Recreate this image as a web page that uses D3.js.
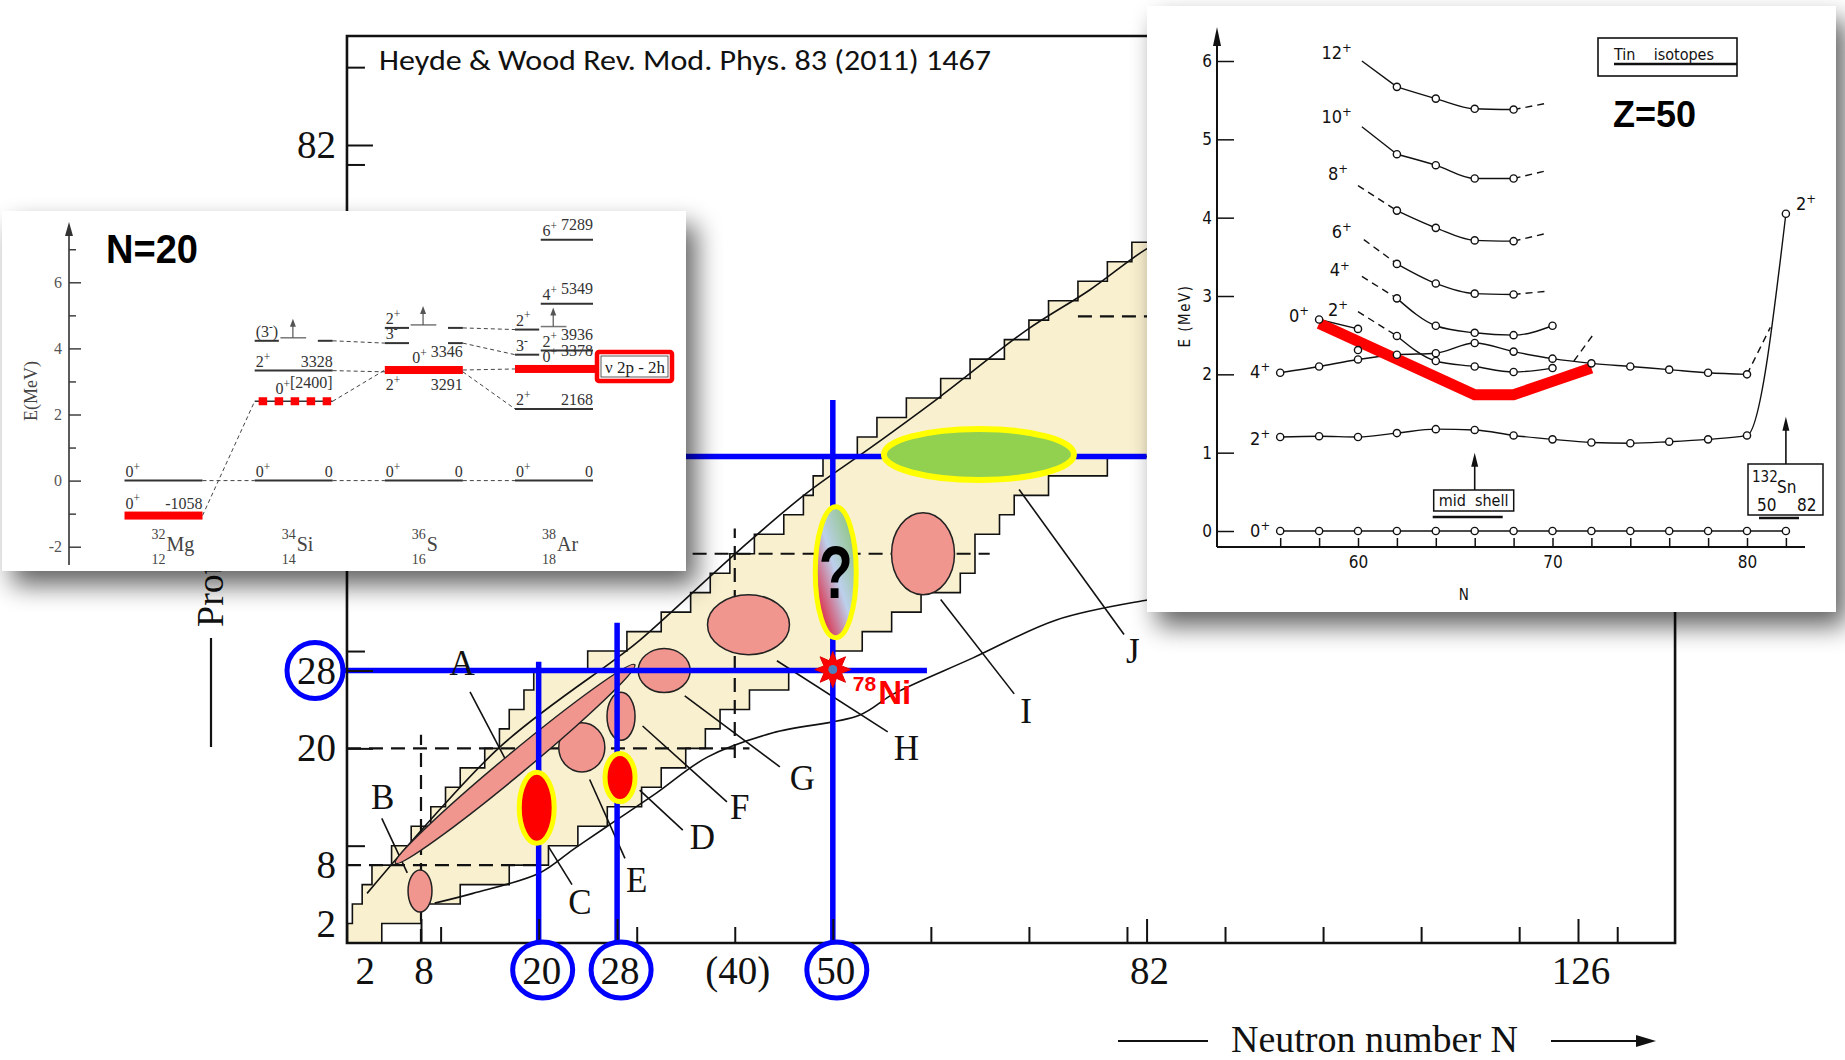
<!DOCTYPE html>
<html>
<head>
<meta charset="utf-8">
<title>Shape coexistence near magic numbers</title>
<script src="https://cdn.jsdelivr.net/npm/d3@7"></script>
<style>
  body { margin: 0; background: #fff; }
  svg { display: block; }
  .serif { font-family: "Liberation Serif", "DejaVu Serif", serif; }
  .cond { font-family: "Liberation Sans Narrow", "DejaVu Sans Condensed", "Liberation Sans", sans-serif; }
</style>
</head>
<body>
<svg id="chart" width="1845" height="1060"></svg>
<script>
// ---------- main chart: known nuclei band, rows of two protons ----------
var bandZ    = [0, 2, 4, 6, 8, 10, 12, 14, 16, 18, 20, 22, 24, 26, 28, 30, 32, 34, 36,
                38, 40, 42, 44, 46, 48, 50, 52, 54, 56, 58, 60, 62, 64, 66, 68, 70, 72, 74]
  , bandNmin = [0.5, 1, 2, 3, 5, 7, 9, 10.5, 12, 14.5, 16, 17, 18.5, 19.5, 25, 29, 32.5, 35.5, 37.5,
                39.5, 42, 45, 47, 48, 49, 52.5, 54.5, 57.5, 61, 64, 67.5, 70, 72, 75, 78, 80.5, 84, 87]
  , bandNmax = [4, 8, 12, 17, 21, 24, 27, 30.5, 32.5, 35, 37, 38.5, 41.5, 45.5, 50, 53, 56, 59, 63,
                64.5, 64.5, 67, 68.5, 72, 78, 86, 90, 94, 98, 102, 106, 110, 114, 118, 122, 126, 128, 130]
  ;

// smooth limit curves (N, Z)
var upperN = [2.5, 16, 28, 30.3, 40.5, 47.3, 54, 60.9, 69.8, 76.2, 81.8, 86]
  , upperZ = [5.1, 20.1, 29.3, 31.1, 40.4, 46.2, 51, 56.1, 63, 67.1, 71.2, 73.5]
  , lowerN = [9.4, 13.3, 20.1, 23.5, 27, 32, 37.2, 43.9, 52.7, 56.2, 64.3, 72.8, 81.8, 86]
  , lowerZ = [4.1, 5.1, 7.2, 9.6, 12, 15.4, 19.1, 21.6, 23.4, 25.6, 29.3, 33.2, 35.2, 35.8]
  ;

// dashed shell-closure guides
var guideN0 = [8, 0.45, 0.45, 40, 35.7, 75]
  , guideZ0 = [0, 8, 20, 19, 40, 64.4]
  , guideN1 = [8, 20, 41.5, 40, 66, 84]
  , guideZ1 = [21.4, 8, 20, 42.6, 40, 64.4]
  ;

// shape-coexistence regions (pink)
var blobN  = [7.9, 24.4, 28.4, 32.8, 41.4, 59.2]
  , blobZ  = [5.34, 20.1, 23.3, 28.0, 32.7, 40.0]
  , blobRN = [1.22, 2.35, 1.43, 2.65, 4.18, 3.21]
  , blobRZ = [2.16, 2.52, 2.47, 2.26, 3.08, 4.21]
  , stripN = [5.4, 29.8]
  , stripZ = [8.2, 28.6]
  , islandN  = [19.8, 28.3]
  , islandZ  = [13.9, 17.0]
  , islandRN = [1.78, 1.53]
  , islandRZ = [3.65, 2.47]
  , queryN = 50.3, queryZ = 38.1, queryRN = 2.09, queryRZ = 6.73
  , tinN = 64.9, tinZ = 50.2, tinRN = 9.69, tinRZ = 2.62
  , niN = 50, niZ = 28.1
  ;

// region letters and leader lines
var tagText = ["A", "B", "C", "D", "E", "F", "G", "H", "I", "J"]
  , tagN    = [12.2, 4.1, 24.2, 36.7, 30.0, 40.5, 46.9, 57.5, 69.7, 80.6]
  , tagZ    = [28.8, 15.0, 4.2, 10.9, 6.5, 14.0, 17.0, 20.0, 23.8, 30.0]
  , leadN0  = [13.0, 4.0, 21.0, 30.3, 25.2, 30.6, 34.9, 44.3, 61.0, 69.0]
  , leadZ0  = [25.8, 12.8, 9.9, 15.7, 16.8, 22.3, 25.4, 29.0, 35.3, 46.6]
  , leadN1  = [16.8, 6.6, 23.4, 34.7, 28.8, 39.2, 44.6, 55.6, 68.5, 79.7]
  , leadZ1  = [18.5, 7.2, 6.0, 11.6, 8.7, 14.5, 18.1, 21.7, 25.6, 31.7]
  ;

// highlighted magic numbers
var magicLinesN = [20, 28, 50]
  , magicTopZ   = [28.9, 32.9, 55.8]
  , magicLinesZ = [28, 50]
  , magicFromN  = [0, 30]
  , magicToN    = [59.6, 82]
  ;

// axes
var nTicksMinor = [10, 30, 40, 60, 70, 80, 90, 100, 110, 120, 130]
  , nTicksMajor = [8, 20, 28, 50, 82, 126]
  , nLabelVals  = [2, 8, 20, 28, 40, 50, 82, 126]
  , nLabels     = ["2", "8", "20", "28", "(40)", "50", "82", "126"]
  , zTicksMinor = [10, 30, 40, 60, 70, 80, 90]
  , zTicksMajor = [20, 28, 50, 82]
  , zLabelVals  = [2, 8, 20, 28, 82]
  , zLabels     = ["2", "8", "20", "28", "82"]
  , circledN    = [20, 28, 50]
  , circledZ    = [28]
  , nFrame = [0.45, 135.9]
  , zFrame = [0, 93.2]
  ;

// ---------- N=20 inset: level scheme (keV) ----------
var nucSymbol = ["Mg", "Si", "S", "Ar"]
  , nucMass   = [32, 34, 36, 38]
  , nucZ      = [12, 14, 16, 18]
  , levelNuc  = [0, 0, 1, 1, 1, 2, 2, 2, 3, 3, 3, 3, 3, 3]
  , levelKeV  = [0, -1058, 0, 2400, 3328, 0, 3291, 3346, 0, 2168, 3378, 3936, 5349, 7289]
  , levelSpin = ["0+", "0+", "0+", "0+", "2+", "0+", "2+", "0+", "0+", "2+", "0+", "2+", "4+", "6+"]
  , levelText = ["", "-1058", "0", "[2400]", "3328", "0", "3291", "3346", "0", "2168", "3378", "3936", "5349", "7289"]
  , levelKind = [0, 1, 0, 2, 0, 0, 0, 1, 0, 0, 1, 0, 0, 0]
  , levelMode = [0, 0, 0, 2, 0, 0, 1, 2, 0, 0, 2, 3, 3, 3]
  , highNuc   = [1, 2, 2, 3, 3]
  , highKeV   = [4230, 4160, 4620, 3810, 4570]
  , highSpin  = ["(3-)", "3-", "2+", "3-", "2+"]
  , highSplit = [1, 1, 1, 0, 0]
  , highArrow = [1, 0, 1, 0, 1]
  , linkNuc   = [0, 1, 2, 0, 1, 2, 1, 2, 1, 2, 2]
  , linkFrom  = [0, 0, 0, -1058, 2400, 3346, 3328, 3291, 4230, 4160, 4620]
  , linkTo    = [0, 0, 0, 2400, 3346, 3378, 3291, 2168, 4160, 3810, 4570]
  , eTicksMajor = [-2, 0, 2, 4, 6]
  , eTicksMinor = [-1, 1, 3, 5, 7]
  ;

// ---------- Z=50 inset: tin isotopes (MeV) ----------
var snN       = [56, 58, 60, 62, 64, 66, 68, 70, 72, 74, 76, 78, 80, 82]
  , snGround  = [0, 0, 0, 0, 0, 0, 0, 0, 0, 0, 0, 0, 0, 0]
  , snTwo     = [1.20, 1.21, 1.20, 1.25, 1.30, 1.29, 1.22, 1.17, 1.13, 1.12, 1.14, 1.17, 1.22, 4.05]
  , snFourN   = [56, 58, 60, 62, 64, 66, 68, 70, 72, 74, 76, 78, 80]
  , snFour    = [2.02, 2.10, 2.19, 2.25, 2.27, 2.40, 2.29, 2.20, 2.14, 2.10, 2.06, 2.02, 2.00]
  , snTwoBN   = [62, 64, 66, 68, 70]
  , snTwoB    = [2.49, 2.17, 2.10, 2.03, 2.08]
  , snZeroBN  = [58, 60]
  , snZeroB   = [2.70, 2.58]
  , snFourBN  = [62, 64, 66, 68, 70]
  , snFourB   = [2.97, 2.62, 2.53, 2.50, 2.62]
  , snBandN   = [62, 64, 66, 68]
  , snSix     = [3.41, 3.16, 3.03, 3.02]
  , snEight   = [4.09, 3.87, 3.71, 3.70]
  , snTen     = [4.81, 4.67, 4.50, 4.50]
  , snTwelve  = [5.67, 5.52, 5.39, 5.38]
  , snLoneN   = [60]
  , snLone    = [2.31]
  , snIntrN   = [58, 66, 68, 70, 72]
  , snIntr    = [2.65, 1.74, 1.74, 1.91, 2.08]
  , snTickN   = [56, 58, 60, 62, 64, 66, 68, 70, 72, 74, 76, 78, 80, 82]
  , snTickE   = [0, 1, 2, 3, 4, 5, 6]
  ;

var svg = d3.select("#chart")
  , defs = svg.append("defs")
  ;

var drop = defs.append("filter").attr("id", "drop")
  .attr("x", "-8%").attr("y", "-10%").attr("width", "125%").attr("height", "130%");
drop.append("feGaussianBlur").attr("in", "SourceAlpha").attr("stdDeviation", 13);
drop.append("feOffset").attr("dx", 10).attr("dy", 14).attr("result", "off");
drop.append("feComponentTransfer").append("feFuncA").attr("type", "linear").attr("slope", 0.62);
var dm = drop.append("feMerge");
dm.append("feMergeNode");
dm.append("feMergeNode").attr("in", "SourceGraphic");

var qg = defs.append("linearGradient").attr("id", "qgrad")
  .attr("x1", 0).attr("y1", 1).attr("x2", 1).attr("y2", 0);
qg.append("stop").attr("offset", "0.12").attr("stop-color", "#e0203c");
qg.append("stop").attr("offset", "0.5").attr("stop-color", "#bcd0ec");
qg.append("stop").attr("offset", "0.9").attr("stop-color", "#8cc47c");

// ================= main chart =================
var xN = d3.scaleLinear().domain([8, 126]).range([421, 1578])
  , yZ = d3.scaleLinear().domain([0, 82]).range([943, 145])
  , main = svg.append("g")
  ;

defs.append("clipPath").attr("id", "frameClip").append("rect")
  .attr("x", xN(nFrame[0])).attr("y", yZ(zFrame[1]))
  .attr("width", xN(nFrame[1]) - xN(nFrame[0]))
  .attr("height", yZ(zFrame[0]) - yZ(zFrame[1]));

var plot = main.append("g").attr("clip-path", "url(#frameClip)");

function bandPath() {
  var pts = [], i;
  for (i = 0; i < bandZ.length; i++) {
    pts.push([bandNmin[i], bandZ[i]], [bandNmin[i], bandZ[i] + 2]);
  }
  for (i = bandZ.length - 1; i >= 0; i--) {
    pts.push([bandNmax[i], bandZ[i] + 2], [bandNmax[i], bandZ[i]]);
  }
  return d3.line().x(function (d) { return xN(d[0]); }).y(function (d) { return yZ(d[1]); })(pts) + "Z";
}

plot.append("path").attr("d", bandPath())
  .attr("fill", "#f9f0cf").attr("stroke", "#111").attr("stroke-width", 1.6);

var smooth = d3.line()
  .x(function (d) { return xN(d[0]); })
  .y(function (d) { return yZ(d[1]); })
  .curve(d3.curveCatmullRom.alpha(0.5));

plot.append("path").attr("d", smooth(d3.zip(upperN, upperZ)))
  .attr("fill", "none").attr("stroke", "#111").attr("stroke-width", 1.6);
plot.append("path").attr("d", smooth(d3.zip(lowerN, lowerZ)))
  .attr("fill", "none").attr("stroke", "#111").attr("stroke-width", 1.6);

plot.selectAll("line.guide").data(guideN0).enter().append("line")
  .attr("class", "guide")
  .attr("x1", function (d, i) { return xN(guideN0[i]); })
  .attr("y1", function (d, i) { return yZ(guideZ0[i]); })
  .attr("x2", function (d, i) { return xN(guideN1[i]); })
  .attr("y2", function (d, i) { return yZ(guideZ1[i]); })
  .attr("stroke", "#111").attr("stroke-width", 2.2).attr("stroke-dasharray", "14,8");

// leader lines
plot.selectAll("line.lead").data(tagText).enter().append("line")
  .attr("class", "lead")
  .attr("x1", function (d, i) { return xN(leadN0[i]); })
  .attr("y1", function (d, i) { return yZ(leadZ0[i]); })
  .attr("x2", function (d, i) { return xN(leadN1[i]); })
  .attr("y2", function (d, i) { return yZ(leadZ1[i]); })
  .attr("stroke", "#111").attr("stroke-width", 1.6);

// pink regions
plot.selectAll("ellipse.blob").data(blobN).enter().append("ellipse")
  .attr("class", "blob")
  .attr("cx", function (d, i) { return xN(blobN[i]); })
  .attr("cy", function (d, i) { return yZ(blobZ[i]); })
  .attr("rx", function (d, i) { return xN(blobN[i] + blobRN[i]) - xN(blobN[i]); })
  .attr("ry", function (d, i) { return yZ(blobZ[i]) - yZ(blobZ[i] + blobRZ[i]); })
  .attr("fill", "#f0968f").attr("stroke", "#222").attr("stroke-width", 1.5);

(function () {
  var x0 = xN(stripN[0]), y0 = yZ(stripZ[0])
    , x1 = xN(stripN[1]), y1 = yZ(stripZ[1])
    , len = Math.hypot(x1 - x0, y1 - y0)
    , ang = Math.atan2(y1 - y0, x1 - x0) * 180 / Math.PI
    ;
  plot.append("ellipse")
    .attr("cx", 0).attr("cy", 0).attr("rx", len / 2).attr("ry", 11)
    .attr("transform", "translate(" + ((x0 + x1) / 2) + "," + ((y0 + y1) / 2) + ") rotate(" + ang + ")")
    .attr("fill", "#f0968f").attr("stroke", "#222").attr("stroke-width", 1.5);
})();

// blue magic-number lines
var blue = main.append("g");
blue.selectAll("line.v").data(magicLinesN).enter().append("line")
  .attr("class", "v")
  .attr("x1", function (d) { return xN(d); }).attr("x2", function (d) { return xN(d); })
  .attr("y1", function (d, i) { return yZ(magicTopZ[i]); })
  .attr("y2", yZ(0))
  .attr("stroke", "#0000ff").attr("stroke-width", 5.5);
blue.selectAll("line.h").data(magicLinesZ).enter().append("line")
  .attr("class", "h")
  .attr("y1", function (d) { return yZ(d); }).attr("y2", function (d) { return yZ(d); })
  .attr("x1", function (d, i) { return xN(magicFromN[i]); })
  .attr("x2", function (d, i) { return xN(magicToN[i]); })
  .attr("stroke", "#0000ff").attr("stroke-width", 5.5);

// red islands with yellow rim
main.selectAll("ellipse.island").data(islandN).enter().append("ellipse")
  .attr("class", "island")
  .attr("cx", function (d, i) { return xN(islandN[i]); })
  .attr("cy", function (d, i) { return yZ(islandZ[i]); })
  .attr("rx", function (d, i) { return xN(islandN[i] + islandRN[i]) - xN(islandN[i]); })
  .attr("ry", function (d, i) { return yZ(islandZ[i]) - yZ(islandZ[i] + islandRZ[i]); })
  .attr("fill", "#ff0000").attr("stroke", "#ffff00").attr("stroke-width", 5);

main.append("ellipse")
  .attr("cx", xN(queryN)).attr("cy", yZ(queryZ))
  .attr("rx", xN(queryN + queryRN) - xN(queryN))
  .attr("ry", yZ(queryZ) - yZ(queryZ + queryRZ))
  .attr("fill", "url(#qgrad)").attr("stroke", "#ffff00").attr("stroke-width", 5);
main.append("text")
  .attr("x", xN(queryN)).attr("y", yZ(queryZ) + 26)
  .attr("text-anchor", "middle")
  .attr("font-family", "Liberation Sans, sans-serif").attr("font-weight", "bold")
  .attr("font-size", 74).attr("textLength", 34).attr("lengthAdjust", "spacingAndGlyphs")
  .attr("fill", "#000").text("?");

main.append("ellipse")
  .attr("cx", xN(tinN)).attr("cy", yZ(tinZ))
  .attr("rx", xN(tinN + tinRN) - xN(tinN))
  .attr("ry", yZ(tinZ) - yZ(tinZ + tinRZ))
  .attr("fill", "#92d050").attr("stroke", "#ffff00").attr("stroke-width", 6);

// 78Ni star
(function () {
  var cx = xN(niN), cy = yZ(niZ), pts = [], k, r, a;
  for (k = 0; k < 16; k++) {
    r = k % 2 ? 9.5 : 18;
    a = Math.PI * k / 8;
    pts.push([cx + r * Math.sin(a), cy - r * Math.cos(a)]);
  }
  main.append("path").attr("d", d3.line()(pts) + "Z")
    .attr("fill", "#ff0000").attr("stroke", "#e00000").attr("stroke-width", 1);
  main.append("circle").attr("cx", cx).attr("cy", cy).attr("r", 4.5).attr("fill", "#4f81bd");
  var t = main.append("text").attr("x", cx + 20).attr("y", cy + 21)
    .attr("font-family", "Liberation Sans, sans-serif").attr("font-weight", "bold").attr("fill", "#ff0000");
  t.append("tspan").attr("font-size", 21).text("78");
  t.append("tspan").attr("font-size", 33).attr("dy", 13).attr("dx", 2).text("Ni");
})();

// letters
main.selectAll("text.tag").data(tagText).enter().append("text")
  .attr("class", "tag serif")
  .attr("x", function (d, i) { return xN(tagN[i]); })
  .attr("y", function (d, i) { return yZ(tagZ[i]) + 12; })
  .attr("text-anchor", "middle").attr("font-size", 35).attr("fill", "#111")
  .text(function (d) { return d; });

// frame
var fx0 = xN(nFrame[0]), fx1 = xN(nFrame[1]), fy0 = yZ(zFrame[0]), fy1 = yZ(zFrame[1]);
main.append("path")
  .attr("d", "M" + fx0 + "," + fy0 + "V" + fy1 + "H" + fx1 + "V" + fy0 + "Z")
  .attr("fill", "none").attr("stroke", "#111").attr("stroke-width", 2.6);

// axis ticks (inward)
function tickAxis(axis, tr, size, vals) {
  var g = main.append("g").attr("transform", tr)
    .call(axis.tickValues(vals).tickSizeInner(-size).tickSizeOuter(0).tickFormat(""));
  g.select(".domain").remove();
  g.selectAll("line").attr("stroke", "#111").attr("stroke-width", 2);
}
tickAxis(d3.axisBottom(xN), "translate(0," + fy0 + ")", 16, nTicksMinor);
tickAxis(d3.axisBottom(xN), "translate(0," + fy0 + ")", 24, nTicksMajor);
tickAxis(d3.axisLeft(yZ), "translate(" + fx0 + ",0)", 18, zTicksMinor);
tickAxis(d3.axisLeft(yZ), "translate(" + fx0 + ",0)", 26, zTicksMajor);

main.selectAll("text.nlab").data(nLabelVals).enter().append("text")
  .attr("class", "nlab serif")
  .attr("x", function (d) { return xN(d) + 3; }).attr("y", 984)
  .attr("text-anchor", "middle").attr("font-size", 39).attr("fill", "#111")
  .text(function (d, i) { return nLabels[i]; });
main.selectAll("text.zlab").data(zLabelVals).enter().append("text")
  .attr("class", "zlab serif")
  .attr("x", 336).attr("y", function (d) { return yZ(d) + 13; })
  .attr("text-anchor", "end").attr("font-size", 39).attr("fill", "#111")
  .text(function (d, i) { return zLabels[i]; });

main.selectAll("ellipse.ncirc").data(circledN).enter().append("ellipse")
  .attr("class", "ncirc")
  .attr("cx", function (d) { return xN(d) + 4; }).attr("cy", 970)
  .attr("rx", 30).attr("ry", 28)
  .attr("fill", "none").attr("stroke", "#0000ff").attr("stroke-width", 5);
main.selectAll("circle.zcirc").data(circledZ).enter().append("circle")
  .attr("class", "zcirc")
  .attr("cx", 315).attr("cy", function (d) { return yZ(d); }).attr("r", 28)
  .attr("fill", "none").attr("stroke", "#0000ff").attr("stroke-width", 5);

// axis titles
main.append("line").attr("x1", 1118).attr("x2", 1208).attr("y1", 1041).attr("y2", 1041)
  .attr("stroke", "#111").attr("stroke-width", 2.2);
main.append("text").attr("class", "serif").attr("x", 1231).attr("y", 1052)
  .attr("font-size", 38).attr("fill", "#111").text("Neutron number N");
main.append("line").attr("x1", 1551).attr("x2", 1640).attr("y1", 1041).attr("y2", 1041)
  .attr("stroke", "#111").attr("stroke-width", 2.2);
main.append("path").attr("d", "M1656,1041L1636,1035L1636,1047Z").attr("fill", "#111");

main.append("line").attr("x1", 211).attr("x2", 211).attr("y1", 747).attr("y2", 638)
  .attr("stroke", "#111").attr("stroke-width", 2.2);
main.append("text").attr("class", "serif")
  .attr("transform", "translate(223,627) rotate(-90)")
  .attr("font-size", 38).attr("fill", "#111").text("Proton number Z");
main.append("line").attr("x1", 211).attr("x2", 211).attr("y1", 310).attr("y2", 220)
  .attr("stroke", "#111").attr("stroke-width", 2.2);

main.append("text").attr("x", 379).attr("y", 70)
  .attr("font-family", "Carlito, 'Open Sans', sans-serif").attr("font-size", 29)
  .attr("textLength", 612).attr("lengthAdjust", "spacingAndGlyphs")
  .attr("fill", "#111").text("Heyde & Wood Rev. Mod. Phys. 83 (2011) 1467");

// helper: spin text with raised sign
function spinSpans(t, spin, size) {
  var m = /^(\(?)(\d+)([+-])(\)?)$/.exec(spin);
  if (!m) { t.append("tspan").text(spin); return; }
  t.append("tspan").text(m[1] + m[2]);
  t.append("tspan").attr("dy", -size * 0.38).attr("font-size", size * 0.72).text(m[3]);
  t.append("tspan").attr("dy", size * 0.38).text(m[4]);
}

// ================= N=20 inset =================
var inA = svg.append("g");
inA.append("rect").attr("x", 2).attr("y", 211).attr("width", 684).attr("height", 360)
  .attr("fill", "#fff").attr("filter", "url(#drop)");

var eY = d3.scaleLinear().domain([-2, 6]).range([546.7, 282.3])
  , col = d3.scalePoint().domain(nucSymbol).range([163.5, 554])
  , halfW = 39
  , axX = 69
  ;

inA.append("line").attr("x1", axX).attr("x2", axX).attr("y1", 565).attr("y2", 232)
  .attr("stroke", "#333").attr("stroke-width", 1.6);
inA.append("path").attr("d", "M" + axX + ",222L" + (axX - 4) + ",236L" + (axX + 4) + ",236Z").attr("fill", "#333");

function insetAxis(sel, axis, tr) {
  var g = sel.append("g").attr("transform", tr).call(axis);
  g.select(".domain").remove();
  g.selectAll("line").attr("stroke", "#333").attr("stroke-width", 1.4);
  return g;
}
var gA = insetAxis(inA, d3.axisLeft(eY).tickValues(eTicksMajor).tickSizeInner(-12).tickSizeOuter(0).tickPadding(7)
    .tickFormat(function (d) { return String(d); }),
  "translate(" + axX + ",0)");
gA.selectAll("text").attr("font-family", "Liberation Serif, serif").attr("font-size", 16).attr("fill", "#555");
insetAxis(inA, d3.axisLeft(eY).tickValues(eTicksMinor).tickSizeInner(-7).tickSizeOuter(0).tickFormat(""),
  "translate(" + axX + ",0)");

inA.append("text").attr("class", "serif")
  .attr("transform", "translate(37,391) rotate(-90)")
  .attr("text-anchor", "middle").attr("font-size", 18).attr("fill", "#444").text("E(MeV)");

// connectors
inA.selectAll("line.link").data(linkNuc).enter().append("line")
  .attr("class", "link")
  .attr("x1", function (d) { return col(nucSymbol[d]) + halfW; })
  .attr("x2", function (d) { return col(nucSymbol[d + 1]) - halfW; })
  .attr("y1", function (d, i) { return eY(linkFrom[i] / 1000); })
  .attr("y2", function (d, i) { return eY(linkTo[i] / 1000); })
  .attr("stroke", "#444").attr("stroke-width", 1).attr("stroke-dasharray", "4,3");

// levels
levelNuc.forEach(function (n, i) {
  var c = col(nucSymbol[n])
    , x0 = c - halfW + (levelMode[i] === 3 ? 2 * halfW * 0.33 : 0)
    , x1 = c + halfW
    , y = eY(levelKeV[i] / 1000)
    , kind = levelKind[i]
    , lift = kind ? 7 : 4
    , t
    ;
  if (kind === 1) {
    inA.append("rect").attr("x", x0).attr("y", y - 4)
      .attr("width", (x1 - x0) + (n === 3 ? 8 : 0)).attr("height", 8).attr("fill", "#ff0000");
  } else if (kind === 2) {
    inA.append("line").attr("x1", x0).attr("x2", x1).attr("y1", y).attr("y2", y)
      .attr("stroke", "#333").attr("stroke-width", 1.5);
    inA.append("line").attr("x1", x0 + 4).attr("x2", x1).attr("y1", y).attr("y2", y)
      .attr("stroke", "#ff0000").attr("stroke-width", 8).attr("stroke-dasharray", "8.5,7.5");
  } else {
    inA.append("line").attr("x1", x0).attr("x2", x1).attr("y1", y).attr("y2", y)
      .attr("stroke", "#333").attr("stroke-width", 2);
  }
  if (levelMode[i] === 0 || levelMode[i] === 1) {
    var yy = levelMode[i] === 1 ? y + 18 : y - lift;
    t = inA.append("text").attr("class", "serif").attr("x", x0 + 1).attr("y", yy)
      .attr("font-size", 16).attr("fill", "#333");
    spinSpans(t, levelSpin[i], 16);
    inA.append("text").attr("class", "serif").attr("x", x1).attr("y", yy)
      .attr("text-anchor", "end").attr("font-size", 16).attr("fill", "#333").text(levelText[i]);
  } else {
    t = inA.append("text").attr("class", "serif").attr("x", x1).attr("y", y - lift)
      .attr("text-anchor", "end").attr("font-size", 16).attr("fill", "#333");
    spinSpans(t, levelSpin[i], 16);
    t.append("tspan").text((levelMode[i] === 3 ? " " : (levelText[i].charAt(0) === "[" ? "" : " ")) + levelText[i]);
  }
});

// higher partial levels (3-, 2+ with arrows)
highNuc.forEach(function (n, i) {
  var c = col(nucSymbol[n]), x0 = c - halfW, w = 2 * halfW
    , y = eY(highKeV[i] / 1000), t
    ;
  inA.append("line").attr("x1", x0).attr("x2", x0 + 0.31 * w).attr("y1", y).attr("y2", y)
    .attr("stroke", "#333").attr("stroke-width", 2);
  if (highSplit[i]) {
    inA.append("line").attr("x1", x0 + 0.81 * w).attr("x2", x0 + w).attr("y1", y).attr("y2", y)
      .attr("stroke", "#333").attr("stroke-width", 2);
  }
  if (highArrow[i]) {
    var ya = y - 3, xa = x0 + 0.49 * w;
    inA.append("line").attr("x1", x0 + 0.33 * w).attr("x2", x0 + 0.66 * w).attr("y1", ya).attr("y2", ya)
      .attr("stroke", "#777").attr("stroke-width", 1.5);
    inA.append("line").attr("x1", xa).attr("x2", xa).attr("y1", ya).attr("y2", ya - 14)
      .attr("stroke", "#555").attr("stroke-width", 1.2);
    inA.append("path").attr("d", "M" + xa + "," + (ya - 19) + "L" + (xa - 3) + "," + (ya - 11) + "L" + (xa + 3) + "," + (ya - 11) + "Z")
      .attr("fill", "#555");
  }
  t = inA.append("text").attr("class", "serif").attr("x", x0 + 1).attr("y", y - 4)
    .attr("font-size", 16).attr("fill", "#333");
  spinSpans(t, highSpin[i], 16);
});

// nucleus names
nucSymbol.forEach(function (s, i) {
  var c = col(s) + 3
    , sym = inA.append("text").attr("class", "serif").attr("x", c).attr("y", 551)
        .attr("font-size", 20).attr("fill", "#444").text(s)
    , left = sym.node().getBBox().x - 1
    ;
  inA.append("text").attr("class", "serif").attr("x", left).attr("y", 539)
    .attr("text-anchor", "end").attr("font-size", 14).attr("fill", "#444").text(nucMass[i]);
  inA.append("text").attr("class", "serif").attr("x", left).attr("y", 564)
    .attr("text-anchor", "end").attr("font-size", 14).attr("fill", "#444").text(nucZ[i]);
});

// nu 2p-2h box
inA.append("rect").attr("x", 597).attr("y", 352).attr("width", 75).attr("height", 29).attr("rx", 2)
  .attr("fill", "#fff").attr("stroke", "#ff0000").attr("stroke-width", 4.5);
inA.append("rect").attr("x", 601).attr("y", 356).attr("width", 67).attr("height", 21)
  .attr("fill", "none").attr("stroke", "#333").attr("stroke-width", 0.8);
inA.append("text").attr("class", "serif").attr("x", 605).attr("y", 373)
  .attr("font-size", 17).attr("fill", "#222").text("ν 2p - 2h");

inA.append("text").attr("x", 106).attr("y", 263)
  .attr("font-family", "Liberation Sans, sans-serif").attr("font-weight", "bold")
  .attr("font-size", 40).attr("textLength", 92).attr("lengthAdjust", "spacingAndGlyphs")
  .attr("fill", "#000").text("N=20");

// ================= Z=50 inset =================
var inB = svg.append("g");
inB.append("rect").attr("x", 1147).attr("y", 6).attr("width", 689).attr("height", 606)
  .attr("fill", "#fff").attr("filter", "url(#drop)");

var xS = d3.scaleLinear().domain([60, 80]).range([1358, 1747])
  , yS = d3.scaleLinear().domain([0, 6]).range([531, 61])
  , sAx = 1217, sAy = 547
  ;

inB.append("line").attr("x1", sAx).attr("x2", sAx).attr("y1", sAy).attr("y2", 40)
  .attr("stroke", "#111").attr("stroke-width", 2);
inB.append("path").attr("d", "M" + sAx + ",27L" + (sAx - 4) + ",46L" + (sAx + 4) + ",46Z").attr("fill", "#111");
inB.append("line").attr("x1", sAx).attr("x2", 1805).attr("y1", sAy).attr("y2", sAy)
  .attr("stroke", "#111").attr("stroke-width", 2);

var gbx = inB.append("g").attr("transform", "translate(0," + sAy + ")")
  .call(d3.axisBottom(xS).tickValues(snTickN).tickSizeInner(-9).tickSizeOuter(0).tickPadding(9)
    .tickFormat(function (d) { return d % 10 === 0 ? d : ""; }));
gbx.select(".domain").remove();
gbx.selectAll("line").attr("stroke", "#111").attr("stroke-width", 1.5);
gbx.selectAll("text").attr("class", "cond").attr("font-size", 17).attr("fill", "#111");

var gby = inB.append("g").attr("transform", "translate(" + sAx + ",0)")
  .call(d3.axisLeft(yS).tickValues(snTickE).tickSizeInner(-17).tickSizeOuter(0).tickPadding(5)
    .tickFormat(d3.format("d")));
gby.select(".domain").remove();
gby.selectAll("line").attr("stroke", "#111").attr("stroke-width", 1.5);
gby.selectAll("text").attr("class", "cond").attr("font-size", 17).attr("fill", "#111");

inB.append("text").attr("class", "cond").attr("x", xS(66) - 16).attr("y", 600)
  .attr("font-size", 15).attr("fill", "#111").text("N");
inB.append("text").attr("class", "cond")
  .attr("transform", "translate(1190,316) rotate(-90)")
  .attr("text-anchor", "middle").attr("font-size", 15).attr("letter-spacing", 1.5)
  .attr("fill", "#111").text("E (MeV)");

var snLine = d3.line()
  .x(function (d) { return xS(d[0]); })
  .y(function (d) { return yS(d[1]); })
  .curve(d3.curveMonotoneX);

function seg(n0, e0, n1, e1, dashed) {
  inB.append("line").attr("x1", xS(n0)).attr("y1", yS(e0)).attr("x2", xS(n1)).attr("y2", yS(e1))
    .attr("stroke", "#111").attr("stroke-width", 1.4)
    .attr("stroke-dasharray", dashed ? "7,5" : null);
}

// lead-in / lead-out pieces of the band lines
seg(60.2, 6.00, 62, 5.67, 0);  seg(68, 5.38, 69.7, 5.46, 1);
seg(60.2, 5.16, 62, 4.81, 0);  seg(68, 4.50, 69.7, 4.60, 1);
seg(60.0, 4.41, 62, 4.09, 1);  seg(68, 3.70, 69.7, 3.80, 1);
seg(60.3, 3.72, 62, 3.41, 1);  seg(68, 3.02, 69.7, 3.06, 1);
seg(60.2, 3.25, 62, 2.97, 1);
seg(60.0, 2.80, 62, 2.49, 1);
seg(80, 2.00, 81.2, 2.60, 1);
seg(71.1, 2.17, 72.1, 2.51, 1);

var snSets = [
  [snN, snGround, "linear"], [snN, snTwo], [snFourN, snFour], [snTwoBN, snTwoB],
  [snZeroBN, snZeroB], [snFourBN, snFourB], [snBandN, snSix], [snBandN, snEight],
  [snBandN, snTen], [snBandN, snTwelve]
];
snSets.forEach(function (s) {
  var pts = d3.zip(s[0], s[1]);
  inB.append("path").attr("d", s[2] ? d3.line().x(function (d) { return xS(d[0]); }).y(function (d) { return yS(d[1]); })(pts) : snLine(pts))
    .attr("fill", "none").attr("stroke", "#111").attr("stroke-width", 1.4);
});

inB.append("path").attr("d", d3.line().x(function (d) { return xS(d[0]); }).y(function (d) { return yS(d[1]); })(d3.zip(snIntrN, snIntr)))
  .attr("fill", "none").attr("stroke", "#ff0000").attr("stroke-width", 11).attr("stroke-linejoin", "miter");

snSets.concat([[snLoneN, snLone]]).forEach(function (s) {
  inB.append("g").selectAll("circle").data(d3.zip(s[0], s[1])).enter().append("circle")
    .attr("cx", function (d) { return xS(d[0]); }).attr("cy", function (d) { return yS(d[1]); })
    .attr("r", 3.6).attr("fill", "#fff").attr("stroke", "#111").attr("stroke-width", 1.4);
});

// spin labels
function snLabel(n, e, spin, dx, dy, anchor) {
  var t = inB.append("text").attr("class", "cond").attr("x", xS(n) + dx).attr("y", yS(e) + dy)
    .attr("text-anchor", anchor || "end").attr("font-size", 18).attr("fill", "#111");
  spinSpans(t, spin, 18);
}
snLabel(60.2, 6.00, "12+", -10, -2);
snLabel(60.2, 5.16, "10+", -10, -4);
snLabel(60.0, 4.41, "8+", -10, -6);
snLabel(60.3, 3.72, "6+", -12, -2);
snLabel(60.2, 3.25, "4+", -12, 0);
snLabel(60.0, 2.80, "2+", -10, 4);
snLabel(58, 2.70, "0+", -10, 2);
snLabel(56, 2.02, "4+", -10, 5);
snLabel(56, 1.20, "2+", -10, 8);
snLabel(56, 0, "0+", -10, 6);
snLabel(82, 4.05, "2+", 10, -4, "start");

// boxes
inB.append("rect").attr("x", 1598).attr("y", 38).attr("width", 139).attr("height", 38)
  .attr("fill", "none").attr("stroke", "#111").attr("stroke-width", 1.6);
inB.append("text").attr("class", "cond").attr("x", 1614).attr("y", 60)
  .attr("font-size", 16).attr("fill", "#111").attr("xml:space", "preserve").text("Tin    isotopes");
inB.append("line").attr("x1", 1614).attr("x2", 1737).attr("y1", 64).attr("y2", 64)
  .attr("stroke", "#111").attr("stroke-width", 2.5);

inB.append("text").attr("x", 1613).attr("y", 127)
  .attr("font-family", "Liberation Sans, sans-serif").attr("font-weight", "bold")
  .attr("font-size", 36).attr("fill", "#000").text("Z=50");

function upArrow(x, yBottom, yTip) {
  inB.append("line").attr("x1", x).attr("x2", x).attr("y1", yBottom).attr("y2", yTip + 8)
    .attr("stroke", "#111").attr("stroke-width", 1.6);
  inB.append("path").attr("d", "M" + x + "," + yTip + "L" + (x - 3.5) + "," + (yTip + 14) + "L" + (x + 3.5) + "," + (yTip + 14) + "Z")
    .attr("fill", "#111");
}
upArrow(xS(66), 490, yS(1.0));
inB.append("rect").attr("x", xS(66) - 41).attr("y", 490).attr("width", 80).attr("height", 21)
  .attr("fill", "#fff").attr("stroke", "#111").attr("stroke-width", 1.5);
inB.append("text").attr("class", "cond").attr("x", xS(66) - 36).attr("y", 506)
  .attr("font-size", 16).attr("fill", "#111").attr("xml:space", "preserve").text("mid  shell");
inB.append("line").attr("x1", xS(66) - 42).attr("x2", xS(66) + 28).attr("y1", 517).attr("y2", 517)
  .attr("stroke", "#111").attr("stroke-width", 2.5);

upArrow(xS(82), 464, yS(1.46));
inB.append("rect").attr("x", 1748).attr("y", 464).attr("width", 75).attr("height", 51)
  .attr("fill", "#fff").attr("stroke", "#111").attr("stroke-width", 1.5);
inB.append("text").attr("class", "cond").attr("x", 1752).attr("y", 482)
  .attr("font-size", 15).attr("fill", "#111").text("132");
inB.append("text").attr("class", "cond").attr("x", 1777).attr("y", 493)
  .attr("font-size", 17).attr("fill", "#111").text("Sn");
inB.append("text").attr("class", "cond").attr("x", 1757).attr("y", 511)
  .attr("font-size", 17).attr("fill", "#111").text("50");
inB.append("text").attr("class", "cond").attr("x", 1797).attr("y", 511)
  .attr("font-size", 17).attr("fill", "#111").text("82");
inB.append("line").attr("x1", 1759).attr("x2", 1799).attr("y1", 518).attr("y2", 518)
  .attr("stroke", "#111").attr("stroke-width", 2.5);
</script>
</body>
</html>
